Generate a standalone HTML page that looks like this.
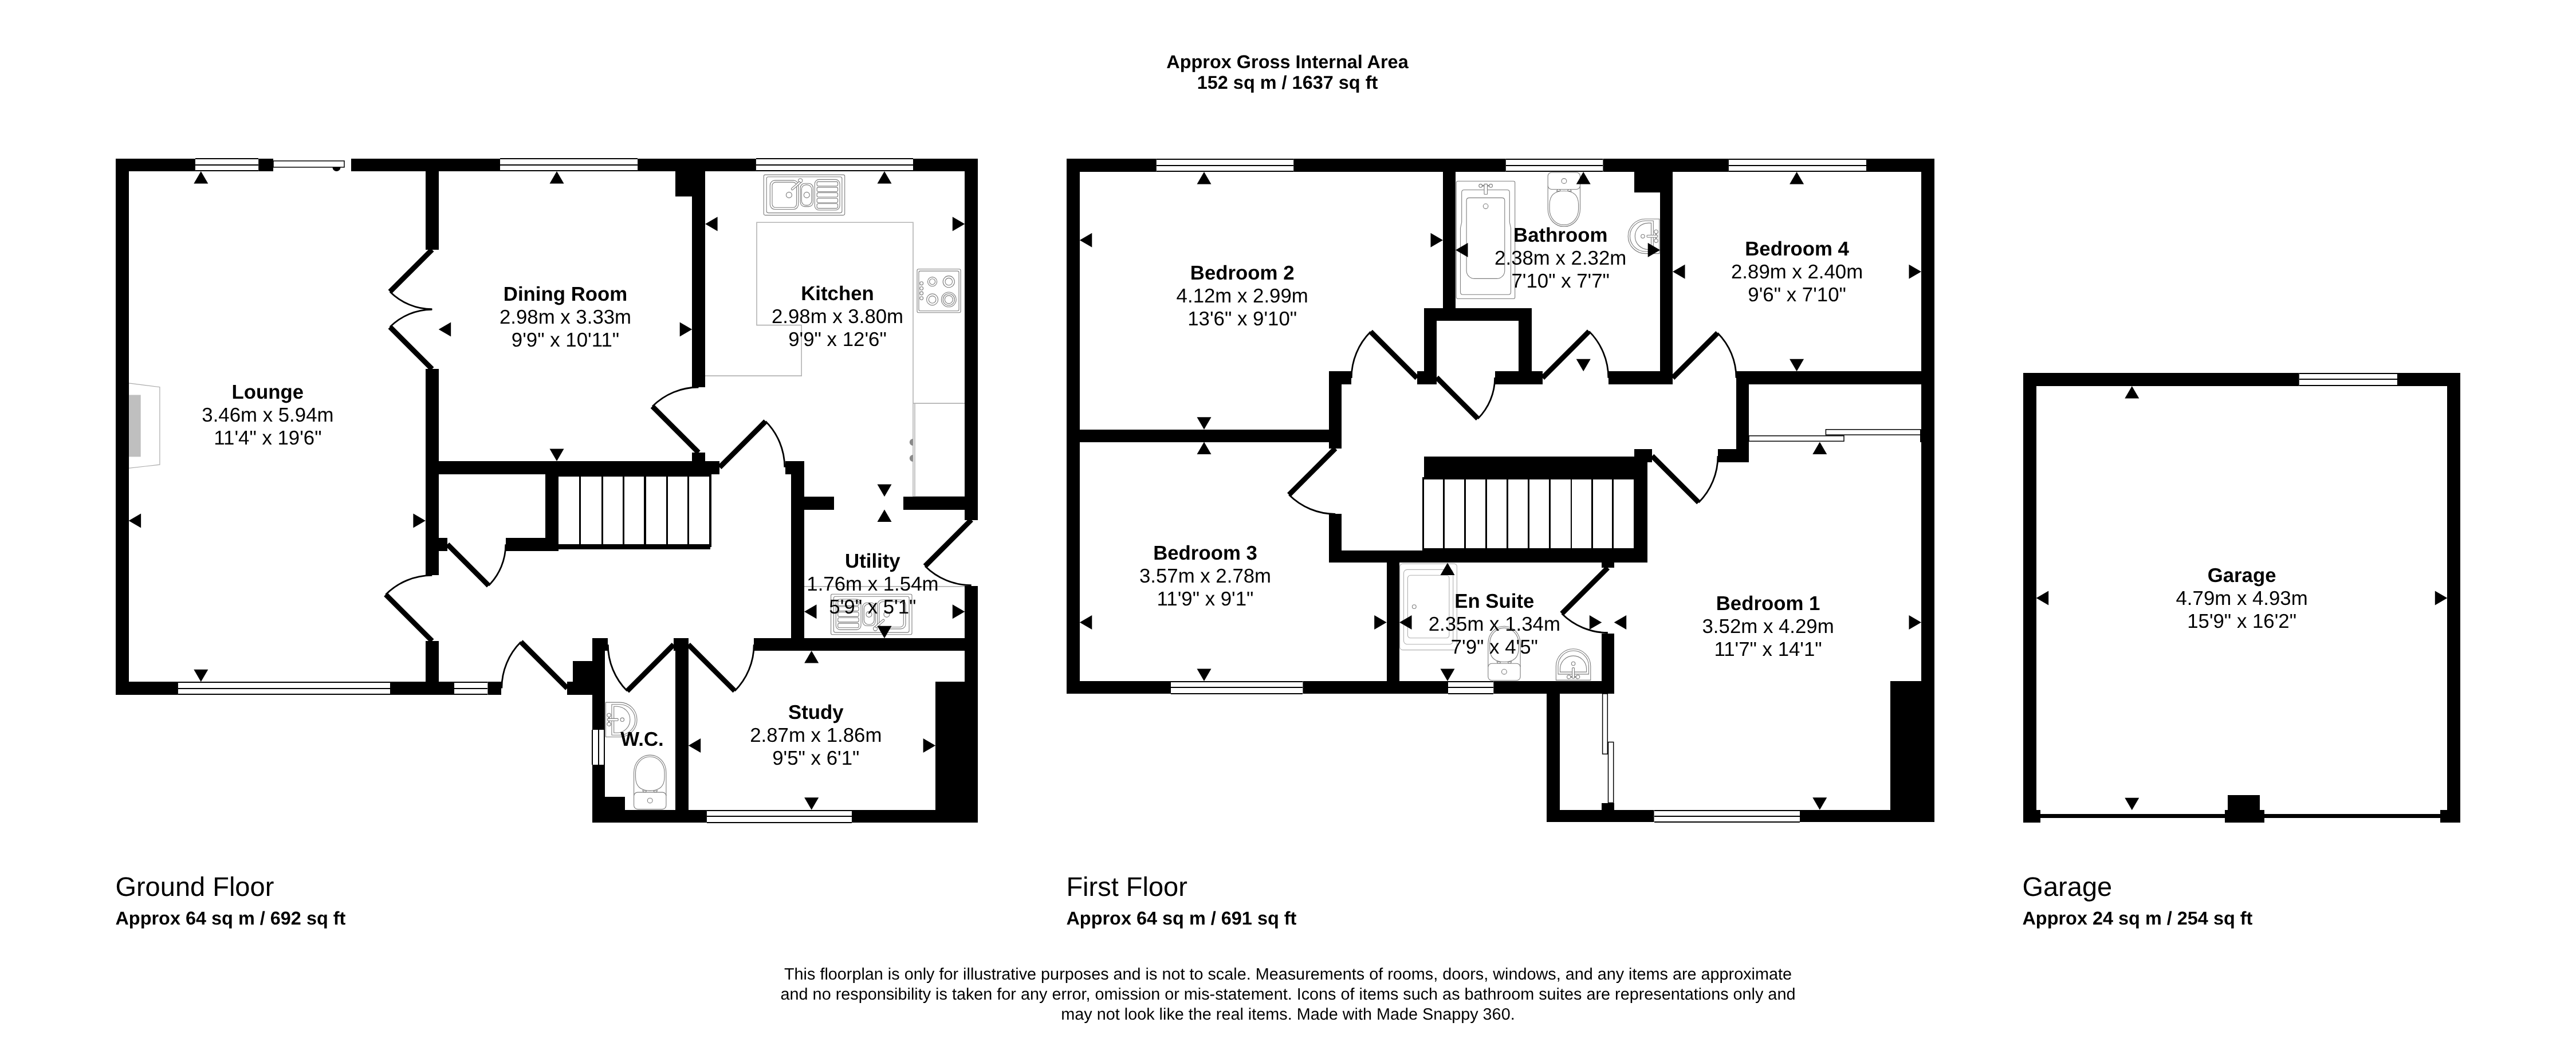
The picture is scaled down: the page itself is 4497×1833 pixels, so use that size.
<!DOCTYPE html>
<html><head><meta charset="utf-8"><title>Floorplan</title>
<style>html,body{margin:0;padding:0;background:#fff}svg{display:block;will-change:transform}text{font-family:"Liberation Sans",sans-serif;fill:#000;text-anchor:middle;text-rendering:geometricPrecision}</style>
</head><body>
<svg width="4497" height="1833" viewBox="0 0 4497 1833">
<rect x="0" y="0" width="4497" height="1833" fill="#fff"/>
<text x="2247.5" y="119" font-weight="bold" font-size="32.45">Approx Gross Internal Area</text>
<text x="2247.5" y="155.3" font-weight="bold" font-size="32.45">152 sq m / 1637 sq ft</text>
<text x="201.4" y="1563.5" font-size="47" style="text-anchor:start">Ground Floor</text>
<text x="201.4" y="1614" font-weight="bold" font-size="32.45" style="text-anchor:start">Approx 64 sq m / 692 sq ft</text>
<text x="1861.4" y="1563.5" font-size="47" style="text-anchor:start">First Floor</text>
<text x="1861.4" y="1614" font-weight="bold" font-size="32.45" style="text-anchor:start">Approx 64 sq m / 691 sq ft</text>
<text x="3530.4" y="1563.5" font-size="47" style="text-anchor:start">Garage</text>
<text x="3530.4" y="1614" font-weight="bold" font-size="32.45" style="text-anchor:start">Approx 24 sq m / 254 sq ft</text>
<text x="2248.5" y="1710" font-size="28.8">This floorplan is only for illustrative purposes and is not to scale. Measurements of rooms, doors, windows, and any items are approximate</text>
<text x="2248.5" y="1745" font-size="28.8">and no responsibility is taken for any error, omission or mis-statement. Icons of items such as bathroom suites are representations only and</text>
<text x="2248.5" y="1780" font-size="28.8">may not look like the real items. Made with Made Snappy 360.</text>
<g fill="none" stroke="#b3b3b3" stroke-width="1.6">
<path d="M1231,656.1 H1399.2 V567.6 H1321 V388.2 H1594 V866.9"/>
<path d="M1594,704.1 H1684.3 M1597,704.1 V866.9 M1594,866.9 H1684.3"/>
<path d="M1404,1023.9 H1684.3"/>
</g>
<path d="M1593.8,766 A6,6 0 0 0 1593.8,778 Z M1593.8,794 A6,6 0 0 0 1593.8,806 Z" fill="#8a8a8a"/>
<path d="M224.6,668.9 L278.9,675.7 V811.1 L224.6,817.4 Z" fill="#fff" stroke="#aaa" stroke-width="1.2"/>
<rect x="224.6" y="689.4" width="21.1" height="108" fill="#bfbfbf"/>
<g transform="translate(1333.3,305.1)" fill="#fff" stroke="#7d7d7d" stroke-width="1.1">
<rect x="0" y="0" width="141.4" height="70.5" rx="2.5"/>
<rect x="4.9" y="3.6" width="131.7" height="62.9" rx="3"/>
<rect x="11" y="9.8" width="49.4" height="50.6" rx="8.5"/>
<rect x="14.7" y="13" width="42.5" height="44.2" rx="6"/>
<circle cx="44.1" cy="35.3" r="5"/>
<rect x="63.9" y="15.2" width="22.2" height="40.3" rx="7.5"/>
<rect x="66" y="17.5" width="17.6" height="35.8" rx="8"/>
<circle cx="75" cy="35.3" r="5"/>
<rect x="89" y="8.3" width="43.7" height="53.4" rx="7.5"/>
<rect x="92.8" y="12" width="36.5" height="7.6" rx="2.5"/>
<rect x="92.8" y="21.8" width="36.5" height="7.6" rx="2.5"/>
<rect x="92.8" y="31.3" width="36.5" height="7.6" rx="2.5"/>
<rect x="92.8" y="41.1" width="36.5" height="7.6" rx="2.5"/>
<rect x="92.8" y="50.4" width="36.5" height="8.1" rx="2.5"/>
<circle cx="63.9" cy="10.2" r="3.6"/>
<path d="M62.3,11.6 L48.6,23.6 A1.7,1.7 0 0 0 50.9,26.1 L64.6,14.1 Z" />
</g>
<g transform="translate(1450.6,1037.2) rotate(180 70.7 35.25)" fill="#fff" stroke="#7d7d7d" stroke-width="1.1">
<rect x="0" y="0" width="141.4" height="70.5" rx="2.5"/>
<rect x="4.9" y="3.6" width="131.7" height="62.9" rx="3"/>
<rect x="11" y="9.8" width="49.4" height="50.6" rx="8.5"/>
<rect x="14.7" y="13" width="42.5" height="44.2" rx="6"/>
<circle cx="44.1" cy="35.3" r="5"/>
<rect x="63.9" y="15.2" width="22.2" height="40.3" rx="7.5"/>
<rect x="66" y="17.5" width="17.6" height="35.8" rx="8"/>
<circle cx="75" cy="35.3" r="5"/>
<rect x="89" y="8.3" width="43.7" height="53.4" rx="7.5"/>
<rect x="92.8" y="12" width="36.5" height="7.6" rx="2.5"/>
<rect x="92.8" y="21.8" width="36.5" height="7.6" rx="2.5"/>
<rect x="92.8" y="31.3" width="36.5" height="7.6" rx="2.5"/>
<rect x="92.8" y="41.1" width="36.5" height="7.6" rx="2.5"/>
<rect x="92.8" y="50.4" width="36.5" height="8.1" rx="2.5"/>
<circle cx="63.9" cy="10.2" r="3.6"/>
<path d="M62.3,11.6 L48.6,23.6 A1.7,1.7 0 0 0 50.9,26.1 L64.6,14.1 Z" />
</g>
<g fill="#fff" stroke="#7d7d7d" stroke-width="1.1">
<rect x="1601" y="469.8" width="76.1" height="76" rx="2.5"/>
<rect x="1604" y="473.1" width="70" height="69.7" rx="2.5"/>
<circle cx="1608.7" cy="494.7" r="2.9"/>
<circle cx="1608.7" cy="503.4" r="2.9"/>
<circle cx="1608.7" cy="512" r="2.9"/>
<circle cx="1608.7" cy="520.6" r="2.9"/>
<circle cx="1627.6" cy="491.7" r="8.1"/>
<circle cx="1627.6" cy="491.7" r="5"/>
<circle cx="1656.3" cy="491.7" r="10.1"/>
<circle cx="1656.3" cy="491.7" r="6.3"/>
<circle cx="1627.6" cy="522.9" r="10"/>
<circle cx="1627.6" cy="522.9" r="6.3"/>
<circle cx="1656.3" cy="522.9" r="12.9"/>
<circle cx="1656.3" cy="522.9" r="10.1"/>
<circle cx="1656.3" cy="522.9" r="7"/>
</g>
<g transform="translate(1057.4,1226.1)" fill="#fff" stroke="#7d7d7d" stroke-width="1.1">
<path d="M0,0 H24.4 A30.2,30.2 0 0 1 24.4,60.4 H0 Z"/>
<path d="M10.5,3.6 H24.65 A26.75,26.75 0 0 1 24.65,57.1 H10.5 Z"/>
<path d="M14.3,7.1 H19.45 A23.05,23.05 0 0 1 19.45,53.2 H14.3 Z"/>
<circle cx="28.9" cy="30.2" r="3.2"/>
<path d="M5,25.6 V35 M6.5,25.6 V35" fill="none"/>
<circle cx="5.7" cy="22.4" r="3.2"/><circle cx="5.7" cy="38.1" r="3.2"/>
<rect x="3.1" y="28.3" width="18.7" height="3.8" rx="1.2"/>
</g>
<g transform="translate(1106.6,1318.1) rotate(180 28.15 47.25)" fill="#fff" stroke="#7d7d7d" stroke-width="1.1">
<path d="M0,24 V64 C0,82 13,94.5 28.15,94.5 C43.3,94.5 56.3,82 56.3,64 V24 Z"/>
<path d="M15.3,32.6 L17,29.5 H20.5 L22.2,32.6 Z M34.1,32.6 L35.8,29.5 H39.3 L41,32.6 Z"/>
<path d="M2.9,56 C2.9,40 12,32.2 28.15,32.2 C44.3,32.2 53.4,40 53.4,56 V64 C53.4,80 42,91.6 28.15,91.6 C14.3,91.6 2.9,80 2.9,64 Z"/>
<rect x="0" y="0" width="56.3" height="29.5" rx="6.5"/>
<circle cx="28.2" cy="15" r="4.4"/>
</g>
<g fill="#000">
<rect x="202" y="277" width="23" height="936" fill="#000"/>
<rect x="202" y="277" width="139" height="22" fill="#000"/>
<rect x="451" y="277" width="26" height="22" fill="#000"/>
<rect x="613" y="277" width="260" height="22" fill="#000"/>
<rect x="1113" y="277" width="207" height="22" fill="#000"/>
<rect x="1594" y="277" width="113" height="22" fill="#000"/>
<rect x="1684" y="277" width="23" height="631" fill="#000"/>
<rect x="1684" y="1023" width="23" height="413" fill="#000"/>
<rect x="202" y="1190" width="109" height="23" fill="#000"/>
<rect x="681" y="1190" width="112" height="23" fill="#000"/>
<rect x="851" y="1190" width="24" height="23" fill="#000"/>
<rect x="743" y="277" width="23" height="159" fill="#000"/>
<rect x="743" y="644" width="23" height="360" fill="#000"/>
<rect x="743" y="1119" width="23" height="94" fill="#000"/>
<rect x="743" y="805" width="513" height="23" fill="#000"/>
<rect x="1208" y="277" width="23" height="399" fill="#000"/>
<rect x="1179" y="299" width="52" height="44" fill="#000"/>
<rect x="1208" y="790" width="23" height="16" fill="#000"/>
<rect x="952" y="827" width="23" height="135" fill="#000"/>
<rect x="883" y="939" width="92" height="23" fill="#000"/>
<rect x="766" y="939" width="15" height="23" fill="#000"/>
<rect x="1371" y="805" width="33" height="23" fill="#000"/>
<rect x="1381" y="805" width="23" height="331" fill="#000"/>
<rect x="1404" y="867" width="52" height="23" fill="#000"/>
<rect x="1577" y="867" width="107" height="23" fill="#000"/>
<rect x="1316" y="1114" width="391" height="22" fill="#000"/>
<rect x="1034" y="1114" width="22" height="160" fill="#000"/>
<rect x="1034" y="1335" width="22" height="101" fill="#000"/>
<rect x="1034" y="1114" width="27" height="22" fill="#000"/>
<rect x="1000" y="1154" width="34" height="36" fill="#000"/>
<rect x="990" y="1190" width="44" height="23" fill="#000"/>
<rect x="1179" y="1114" width="23" height="322" fill="#000"/>
<rect x="1176" y="1114" width="26" height="22" fill="#000"/>
<rect x="1034" y="1414" width="200" height="22" fill="#000"/>
<rect x="1487" y="1414" width="220" height="22" fill="#000"/>
<rect x="1056" y="1391" width="35" height="23" fill="#000"/>
<rect x="1633" y="1190" width="51" height="224" fill="#000"/>
</g>
<rect x="340.9" y="276" width="110.3" height="22.9" fill="#fff"/>
<rect x="341" y="276" width="110" height="2" fill="#000"/>
<rect x="341" y="287" width="110" height="2" fill="#000"/>
<rect x="341" y="297" width="110" height="2" fill="#000"/>
<rect x="873.1" y="276" width="240" height="22.9" fill="#fff"/>
<rect x="873" y="276" width="240" height="2" fill="#000"/>
<rect x="873" y="287" width="240" height="2" fill="#000"/>
<rect x="873" y="297" width="240" height="2" fill="#000"/>
<rect x="1319.9" y="276" width="274.1" height="22.9" fill="#fff"/>
<rect x="1320" y="276" width="274" height="2" fill="#000"/>
<rect x="1320" y="287" width="274" height="2" fill="#000"/>
<rect x="1320" y="297" width="274" height="2" fill="#000"/>
<rect x="310.9" y="1190.3" width="369.7" height="22.7" fill="#fff"/>
<rect x="311" y="1190" width="370" height="2" fill="#000"/>
<rect x="311" y="1201" width="370" height="2" fill="#000"/>
<rect x="311" y="1211" width="370" height="2" fill="#000"/>
<rect x="793.1" y="1190.3" width="58.3" height="22.7" fill="#fff"/>
<rect x="793" y="1190" width="58" height="2" fill="#000"/>
<rect x="793" y="1201" width="58" height="2" fill="#000"/>
<rect x="793" y="1211" width="58" height="2" fill="#000"/>
<rect x="1233.9" y="1413.7" width="253" height="23" fill="#fff"/>
<rect x="1234" y="1414" width="253" height="2" fill="#000"/>
<rect x="1234" y="1424" width="253" height="2" fill="#000"/>
<rect x="1234" y="1435" width="253" height="2" fill="#000"/>
<rect x="1033.1" y="1274" width="22.9" height="60.8" fill="#fff"/>
<rect x="1033" y="1274" width="2" height="61" fill="#000"/>
<rect x="1044" y="1274" width="2" height="61" fill="#000"/>
<rect x="1054" y="1274" width="2" height="61" fill="#000"/>
<path d="M580.5,292 A7,7 0 0 0 594.5,292 Z" fill="#000"/>
<rect x="477" y="280.9" width="124" height="11" fill="#fff" stroke="#000" stroke-width="1.5"/>
<rect x="975" y="828" width="267" height="4" fill="#000"/>
<rect x="975" y="950" width="265" height="9" fill="#000"/>
<rect x="1011" y="828" width="3" height="127" fill="#000"/>
<rect x="1050" y="828" width="3" height="127" fill="#000"/>
<rect x="1087" y="828" width="3" height="127" fill="#000"/>
<rect x="1124" y="828" width="4" height="127" fill="#000"/>
<rect x="1163" y="828" width="3" height="127" fill="#000"/>
<rect x="1200" y="828" width="3" height="127" fill="#000"/>
<rect x="1238" y="828" width="4" height="127" fill="#000"/>
<line x1="754.3" y1="435.7" x2="680.76" y2="509.24" stroke="#000" stroke-width="9"/>
<path d="M680.76,509.24 A104,104 0 0 0 754.3,539.7" fill="none" stroke="#000" stroke-width="2.8"/>
<line x1="754.3" y1="644.3" x2="680.76" y2="570.76" stroke="#000" stroke-width="9"/>
<path d="M680.76,570.76 A104,104 0 0 1 754.3,540.3" fill="none" stroke="#000" stroke-width="2.8"/>
<line x1="1219.5" y1="790" x2="1138.89" y2="709.39" stroke="#000" stroke-width="9"/>
<path d="M1138.89,709.39 A114,114 0 0 1 1219.5,676" fill="none" stroke="#000" stroke-width="2.8"/>
<line x1="1256.3" y1="815.8" x2="1336.56" y2="735.54" stroke="#000" stroke-width="9"/>
<path d="M1336.56,735.54 A113.5,113.5 0 0 1 1369.8,815.8" fill="none" stroke="#000" stroke-width="2.8"/>
<line x1="754.3" y1="1118.9" x2="673.34" y2="1037.94" stroke="#000" stroke-width="9"/>
<path d="M673.34,1037.94 A114.5,114.5 0 0 1 754.3,1004.4" fill="none" stroke="#000" stroke-width="2.8"/>
<line x1="781.1" y1="950.3" x2="853.01" y2="1022.21" stroke="#000" stroke-width="9"/>
<path d="M853.01,1022.21 A101.7,101.7 0 0 0 882.8,950.3" fill="none" stroke="#000" stroke-width="2.8"/>
<line x1="990.3" y1="1201.5" x2="909.34" y2="1120.54" stroke="#000" stroke-width="9"/>
<path d="M909.34,1120.54 A114.5,114.5 0 0 0 875.8,1201.5" fill="none" stroke="#000" stroke-width="2.8"/>
<line x1="1176" y1="1125.2" x2="1094.89" y2="1206.31" stroke="#000" stroke-width="9"/>
<path d="M1094.89,1206.31 A114.7,114.7 0 0 1 1061.3,1125.2" fill="none" stroke="#000" stroke-width="2.8"/>
<line x1="1201.7" y1="1125.2" x2="1282.66" y2="1206.16" stroke="#000" stroke-width="9"/>
<path d="M1282.66,1206.16 A114.5,114.5 0 0 0 1316.2,1125.2" fill="none" stroke="#000" stroke-width="2.8"/>
<line x1="1695.7" y1="907.4" x2="1614.88" y2="988.22" stroke="#000" stroke-width="9"/>
<path d="M1614.88,988.22 A114.3,114.3 0 0 0 1695.7,1021.7" fill="none" stroke="#000" stroke-width="2.8"/>
<g fill="#000">
<polygon points="350.8,298.9 338.3,320.4 363.3,320.4"/>
<polygon points="224.6,909.1 246.1,896.6 246.1,921.6"/>
<polygon points="742.9,909.1 721.4,896.6 721.4,921.6"/>
<polygon points="350.8,1190.3 338.3,1168.8 363.3,1168.8"/>
<polygon points="972,298.9 959.5,320.4 984.5,320.4"/>
<polygon points="765.7,575 787.2,562.5 787.2,587.5"/>
<polygon points="1208.2,575 1186.7,562.5 1186.7,587.5"/>
<polygon points="972,805.1 959.5,783.6 984.5,783.6"/>
<polygon points="1544,298.9 1531.5,320.4 1556.5,320.4"/>
<polygon points="1231.1,391.1 1252.6,378.6 1252.6,403.6"/>
<polygon points="1684.3,391.1 1662.8,378.6 1662.8,403.6"/>
<polygon points="1544,866.9 1531.5,845.4 1556.5,845.4"/>
<polygon points="1544,889.4 1531.5,910.9 1556.5,910.9"/>
<polygon points="1404,1067.8 1425.5,1055.3 1425.5,1080.3"/>
<polygon points="1684.3,1067.8 1662.8,1055.3 1662.8,1080.3"/>
<polygon points="1544,1114.2 1531.5,1092.7 1556.5,1092.7"/>
<polygon points="1416.7,1136 1404.2,1157.5 1429.2,1157.5"/>
<polygon points="1201.7,1301.5 1223.2,1289 1223.2,1314"/>
<polygon points="1633.1,1301.5 1611.6,1289 1611.6,1314"/>
<polygon points="1416.7,1413.7 1404.2,1392.2 1429.2,1392.2"/>
</g>
<text x="467.4" y="695.7" font-weight="bold" font-size="34.8">Lounge</text>
<text x="467.4" y="735.7" font-size="34.8">3.46m x 5.94m</text>
<text x="467.4" y="775.7" font-size="34.8">11'4" x 19'6"</text>
<text x="987" y="525" font-weight="bold" font-size="34.8">Dining Room</text>
<text x="987" y="565" font-size="34.8">2.98m x 3.33m</text>
<text x="987" y="605" font-size="34.8">9'9" x 10'11"</text>
<text x="1462" y="524" font-weight="bold" font-size="34.8">Kitchen</text>
<text x="1462" y="564" font-size="34.8">2.98m x 3.80m</text>
<text x="1462" y="604" font-size="34.8">9'9" x 12'6"</text>
<text x="1523.4" y="990.5" font-weight="bold" font-size="34.8">Utility</text>
<text x="1523.4" y="1030.5" font-size="34.8">1.76m x 1.54m</text>
<text x="1523.4" y="1070.5" font-size="34.8">5'9" x 5'1"</text>
<text x="1424.3" y="1254.7" font-weight="bold" font-size="34.8">Study</text>
<text x="1424.3" y="1294.7" font-size="34.8">2.87m x 1.86m</text>
<text x="1424.3" y="1334.7" font-size="34.8">9'5" x 6'1"</text>
<text x="1121" y="1302.3" font-weight="bold" font-size="34.8">W.C.</text>
<g fill="#fff" stroke="#7d7d7d" stroke-width="1.1">
<rect x="2542.4" y="316.3" width="102.3" height="205.2" rx="2.5"/>
<path d="M2556,331.5 H2631 Q2635.3,331.5 2635.3,335.8 V388 L2637.5,398 V510 Q2637.5,514.3 2633,514.3 H2554 Q2549.5,514.3 2549.5,510 V398 L2551.7,388 V335.8 Q2551.7,331.5 2556,331.5 Z"/>
<path d="M2565,345.4 H2622 Q2626.8,345.4 2626.8,350 V472.4 A14,14 0 0 1 2612.8,486.4 H2574.1 A14,14 0 0 1 2560.1,472.4 V350 Q2560.1,345.4 2565,345.4 Z"/>
<circle cx="2593.6" cy="360.1" r="4.3"/>
<circle cx="2584.7" cy="324.3" r="2.9"/><circle cx="2602.6" cy="324.3" r="2.9"/>
<path d="M2587.6,323.6 H2599.7 M2587.6,325 H2599.7" fill="none"/>
<rect x="2591" y="321.4" width="5.5" height="17.9" rx="0.8"/>
</g>
<g transform="translate(2702.2,301)" fill="#fff" stroke="#7d7d7d" stroke-width="1.1">
<path d="M0,24 V64 C0,82 13,94.5 28.15,94.5 C43.3,94.5 56.3,82 56.3,64 V24 Z"/>
<path d="M15.3,32.6 L17,29.5 H20.5 L22.2,32.6 Z M34.1,32.6 L35.8,29.5 H39.3 L41,32.6 Z"/>
<path d="M2.9,56 C2.9,40 12,32.2 28.15,32.2 C44.3,32.2 53.4,40 53.4,56 V64 C53.4,80 42,91.6 28.15,91.6 C14.3,91.6 2.9,80 2.9,64 Z"/>
<rect x="0" y="0" width="56.3" height="29.5" rx="6.5"/>
<circle cx="28.2" cy="15" r="4.4"/>
</g>
<g transform="translate(2896.8,442.6) rotate(180)" fill="#fff" stroke="#7d7d7d" stroke-width="1.1">
<path d="M0,0 H24.4 A30.2,30.2 0 0 1 24.4,60.4 H0 Z"/>
<path d="M10.5,3.6 H24.65 A26.75,26.75 0 0 1 24.65,57.1 H10.5 Z"/>
<path d="M14.3,7.1 H19.45 A23.05,23.05 0 0 1 19.45,53.2 H14.3 Z"/>
<circle cx="28.9" cy="30.2" r="3.2"/>
<path d="M5,25.6 V35 M6.5,25.6 V35" fill="none"/>
<circle cx="5.7" cy="22.4" r="3.2"/><circle cx="5.7" cy="38.1" r="3.2"/>
<rect x="3.1" y="28.3" width="18.7" height="3.8" rx="1.2"/>
</g>
<g fill="#fff" stroke="#b0b0b0" stroke-width="1.1">
<rect x="2443.7" y="984.1" width="99.7" height="150.5" rx="5"/>
<rect x="2450.5" y="994.4" width="86.2" height="130.3" rx="6"/>
<rect x="2457.4" y="1004.3" width="72.5" height="109.5" rx="5"/>
<circle cx="2468.8" cy="1059.1" r="3.4" stroke="#7d7d7d"/>
</g>
<g transform="translate(2597.8,1093.2) rotate(180 28.15 47.25)" fill="#fff" stroke="#7d7d7d" stroke-width="1.1">
<path d="M0,24 V64 C0,82 13,94.5 28.15,94.5 C43.3,94.5 56.3,82 56.3,64 V24 Z"/>
<path d="M15.3,32.6 L17,29.5 H20.5 L22.2,32.6 Z M34.1,32.6 L35.8,29.5 H39.3 L41,32.6 Z"/>
<path d="M2.9,56 C2.9,40 12,32.2 28.15,32.2 C44.3,32.2 53.4,40 53.4,56 V64 C53.4,80 42,91.6 28.15,91.6 C14.3,91.6 2.9,80 2.9,64 Z"/>
<rect x="0" y="0" width="56.3" height="29.5" rx="6.5"/>
<circle cx="28.2" cy="15" r="4.4"/>
</g>
<g transform="translate(2716.4,1187.4) rotate(-90)" fill="#fff" stroke="#7d7d7d" stroke-width="1.1">
<path d="M0,0 H24.4 A30.2,30.2 0 0 1 24.4,60.4 H0 Z"/>
<path d="M10.5,3.6 H24.65 A26.75,26.75 0 0 1 24.65,57.1 H10.5 Z"/>
<path d="M14.3,7.1 H19.45 A23.05,23.05 0 0 1 19.45,53.2 H14.3 Z"/>
<circle cx="28.9" cy="30.2" r="3.2"/>
<path d="M5,25.6 V35 M6.5,25.6 V35" fill="none"/>
<circle cx="5.7" cy="22.4" r="3.2"/><circle cx="5.7" cy="38.1" r="3.2"/>
<rect x="3.1" y="28.3" width="18.7" height="3.8" rx="1.2"/>
</g>
<g fill="#000">
<rect x="1862" y="277" width="23" height="934" fill="#000"/>
<rect x="1862" y="277" width="157" height="23" fill="#000"/>
<rect x="2258" y="277" width="371" height="23" fill="#000"/>
<rect x="2798" y="277" width="220" height="23" fill="#000"/>
<rect x="3258" y="277" width="119" height="23" fill="#000"/>
<rect x="3354" y="277" width="23" height="1158" fill="#000"/>
<rect x="2519" y="277" width="22" height="261" fill="#000"/>
<rect x="2486" y="538" width="188" height="22" fill="#000"/>
<rect x="2486" y="538" width="22" height="133" fill="#000"/>
<rect x="2651" y="538" width="23" height="133" fill="#000"/>
<rect x="2474" y="648" width="34" height="23" fill="#000"/>
<rect x="2610" y="648" width="83" height="23" fill="#000"/>
<rect x="2853" y="299" width="67" height="37" fill="#000"/>
<rect x="2898" y="277" width="22" height="394" fill="#000"/>
<rect x="2808" y="648" width="112" height="23" fill="#000"/>
<rect x="3031" y="648" width="346" height="23" fill="#000"/>
<rect x="3031" y="648" width="22" height="159" fill="#000"/>
<rect x="2999" y="784" width="54" height="23" fill="#000"/>
<rect x="2320" y="648" width="22" height="135" fill="#000"/>
<rect x="2320" y="897" width="22" height="85" fill="#000"/>
<rect x="2320" y="648" width="39" height="23" fill="#000"/>
<rect x="1862" y="750" width="480" height="22" fill="#000"/>
<rect x="2486" y="797" width="390" height="40" fill="#000"/>
<rect x="2853" y="784" width="31" height="23" fill="#000"/>
<rect x="2852" y="797" width="24" height="185" fill="#000"/>
<rect x="2320" y="961" width="556" height="21" fill="#000"/>
<rect x="2421" y="982" width="22" height="229" fill="#000"/>
<rect x="1862" y="1189" width="182" height="22" fill="#000"/>
<rect x="2274" y="1189" width="254" height="22" fill="#000"/>
<rect x="2607" y="1189" width="211" height="22" fill="#000"/>
<rect x="2796" y="1106" width="22" height="105" fill="#000"/>
<rect x="2796" y="982" width="22" height="9" fill="#000"/>
<rect x="2700" y="1211" width="23" height="224" fill="#000"/>
<rect x="2700" y="1414" width="188" height="21" fill="#000"/>
<rect x="3142" y="1414" width="235" height="21" fill="#000"/>
<rect x="2796" y="1402" width="22" height="12" fill="#000"/>
<rect x="3300" y="1189" width="55" height="225" fill="#000"/>
</g>
<rect x="2018.8" y="277" width="239.4" height="23" fill="#fff"/>
<rect x="2019" y="277" width="239" height="2" fill="#000"/>
<rect x="2019" y="288" width="239" height="2" fill="#000"/>
<rect x="2019" y="298" width="239" height="2" fill="#000"/>
<rect x="2628.8" y="277" width="169.6" height="23" fill="#fff"/>
<rect x="2629" y="277" width="169" height="2" fill="#000"/>
<rect x="2629" y="288" width="169" height="2" fill="#000"/>
<rect x="2629" y="298" width="169" height="2" fill="#000"/>
<rect x="3017.9" y="277" width="239.6" height="23" fill="#fff"/>
<rect x="3018" y="277" width="240" height="2" fill="#000"/>
<rect x="3018" y="288" width="240" height="2" fill="#000"/>
<rect x="3018" y="298" width="240" height="2" fill="#000"/>
<rect x="2044.1" y="1189.1" width="230.3" height="22.9" fill="#fff"/>
<rect x="2044" y="1189" width="230" height="2" fill="#000"/>
<rect x="2044" y="1199" width="230" height="2" fill="#000"/>
<rect x="2044" y="1210" width="230" height="2" fill="#000"/>
<rect x="2528" y="1189.1" width="79.3" height="22.9" fill="#fff"/>
<rect x="2528" y="1189" width="79" height="2" fill="#000"/>
<rect x="2528" y="1199" width="79" height="2" fill="#000"/>
<rect x="2528" y="1210" width="79" height="2" fill="#000"/>
<rect x="2887.5" y="1413.8" width="254.5" height="22.5" fill="#fff"/>
<rect x="2888" y="1414" width="254" height="2" fill="#000"/>
<rect x="2888" y="1424" width="254" height="2" fill="#000"/>
<rect x="2888" y="1434" width="254" height="2" fill="#000"/>
<g fill="#fff" stroke="#000" stroke-width="1.5">
<rect x="3053" y="760.8" width="166" height="9.4"/>
<rect x="3187.4" y="749.8" width="165.5" height="9.3"/>
<rect x="2797.6" y="1211" width="8.7" height="105.3"/>
<rect x="2807.5" y="1295.5" width="9.2" height="106"/>
</g>
<rect x="3352" y="750" width="3" height="22" fill="#000"/>
<rect x="2483" y="833" width="3" height="128" fill="#000"/>
<rect x="2483" y="957" width="369" height="4" fill="#000"/>
<rect x="2519" y="837" width="3" height="121" fill="#000"/>
<rect x="2556" y="837" width="3" height="121" fill="#000"/>
<rect x="2593" y="837" width="3" height="121" fill="#000"/>
<rect x="2630" y="837" width="3" height="121" fill="#000"/>
<rect x="2667" y="837" width="3" height="121" fill="#000"/>
<rect x="2704" y="837" width="3" height="121" fill="#000"/>
<rect x="2742" y="837" width="2" height="121" fill="#000"/>
<rect x="2778" y="837" width="3" height="121" fill="#000"/>
<rect x="2814" y="837" width="3" height="121" fill="#000"/>
<line x1="2473.7" y1="660" x2="2392.74" y2="579.04" stroke="#000" stroke-width="9"/>
<path d="M2392.74,579.04 A114.5,114.5 0 0 0 2359.2,660" fill="none" stroke="#000" stroke-width="2.8"/>
<line x1="2508" y1="659" x2="2579.91" y2="730.91" stroke="#000" stroke-width="9"/>
<path d="M2579.91,730.91 A101.7,101.7 0 0 0 2609.7,659" fill="none" stroke="#000" stroke-width="2.8"/>
<line x1="2692.8" y1="659.7" x2="2774.12" y2="578.38" stroke="#000" stroke-width="9"/>
<path d="M2774.12,578.38 A115,115 0 0 1 2807.8,659.7" fill="none" stroke="#000" stroke-width="2.8"/>
<line x1="2920" y1="659.7" x2="2998.49" y2="581.21" stroke="#000" stroke-width="9"/>
<path d="M2998.49,581.21 A111,111 0 0 1 3031,659.7" fill="none" stroke="#000" stroke-width="2.8"/>
<line x1="2331.2" y1="782.8" x2="2250.24" y2="863.76" stroke="#000" stroke-width="9"/>
<path d="M2250.24,863.76 A114.5,114.5 0 0 0 2331.2,897.3" fill="none" stroke="#000" stroke-width="2.8"/>
<line x1="2884.2" y1="796" x2="2965.38" y2="877.18" stroke="#000" stroke-width="9"/>
<path d="M2965.38,877.18 A114.8,114.8 0 0 0 2999,796" fill="none" stroke="#000" stroke-width="2.8"/>
<line x1="2806.8" y1="991" x2="2726.54" y2="1071.26" stroke="#000" stroke-width="9"/>
<path d="M2726.54,1071.26 A113.5,113.5 0 0 0 2806.8,1104.5" fill="none" stroke="#000" stroke-width="2.8"/>
<g fill="#000">
<polygon points="2102,300 2089.5,321.5 2114.5,321.5"/>
<polygon points="1884.8,419.2 1906.3,406.7 1906.3,431.7"/>
<polygon points="2519,419.2 2497.5,406.7 2497.5,431.7"/>
<polygon points="2102,749.8 2089.5,728.3 2114.5,728.3"/>
<polygon points="2102,771.6 2089.5,793.1 2114.5,793.1"/>
<polygon points="1884.8,1086.6 1906.3,1074.1 1906.3,1099.1"/>
<polygon points="2420.7,1086.6 2399.2,1074.1 2399.2,1099.1"/>
<polygon points="2102,1189.1 2089.5,1167.6 2114.5,1167.6"/>
<polygon points="2764.2,300 2751.7,321.5 2776.7,321.5"/>
<polygon points="2541,436.6 2562.5,424.1 2562.5,449.1"/>
<polygon points="2898.2,436.6 2876.7,424.1 2876.7,449.1"/>
<polygon points="2764.2,648.3 2751.7,626.8 2776.7,626.8"/>
<polygon points="3136.6,300 3124.1,321.5 3149.1,321.5"/>
<polygon points="2920,474.2 2941.5,461.7 2941.5,486.7"/>
<polygon points="3354,474.2 3332.5,461.7 3332.5,486.7"/>
<polygon points="3136.6,648.2 3124.1,626.7 3149.1,626.7"/>
<polygon points="2527,982.4 2514.5,1003.9 2539.5,1003.9"/>
<polygon points="2443,1086.6 2464.5,1074.1 2464.5,1099.1"/>
<polygon points="2796.3,1086.6 2774.8,1074.1 2774.8,1099.1"/>
<polygon points="2527,1189.1 2514.5,1167.6 2539.5,1167.6"/>
<polygon points="3176.8,771.6 3164.3,793.1 3189.3,793.1"/>
<polygon points="2817.7,1086.6 2839.2,1074.1 2839.2,1099.1"/>
<polygon points="3354,1086.6 3332.5,1074.1 3332.5,1099.1"/>
<polygon points="3176.8,1413.8 3164.3,1392.3 3189.3,1392.3"/>
</g>
<text x="2168.7" y="487.6" font-weight="bold" font-size="34.8">Bedroom 2</text>
<text x="2168.7" y="527.6" font-size="34.8">4.12m x 2.99m</text>
<text x="2168.7" y="567.6" font-size="34.8">13'6" x 9'10"</text>
<text x="2724.2" y="421.9" font-weight="bold" font-size="34.8">Bathroom</text>
<text x="2724.2" y="461.9" font-size="34.8">2.38m x 2.32m</text>
<text x="2724.2" y="501.9" font-size="34.8">7'10" x 7'7"</text>
<text x="3137.1" y="445.6" font-weight="bold" font-size="34.8">Bedroom 4</text>
<text x="3137.1" y="485.6" font-size="34.8">2.89m x 2.40m</text>
<text x="3137.1" y="525.6" font-size="34.8">9'6" x 7'10"</text>
<text x="2104" y="976.6" font-weight="bold" font-size="34.8">Bedroom 3</text>
<text x="2104" y="1016.6" font-size="34.8">3.57m x 2.78m</text>
<text x="2104" y="1056.6" font-size="34.8">11'9" x 9'1"</text>
<text x="2608.8" y="1061.2" font-weight="bold" font-size="34.8">En Suite</text>
<text x="2608.8" y="1101.2" font-size="34.8">2.35m x 1.34m</text>
<text x="2608.8" y="1141.2" font-size="34.8">7'9" x 4'5"</text>
<text x="3086.6" y="1064.7" font-weight="bold" font-size="34.8">Bedroom 1</text>
<text x="3086.6" y="1104.7" font-size="34.8">3.52m x 4.29m</text>
<text x="3086.6" y="1144.7" font-size="34.8">11'7" x 14'1"</text>
<g fill="#000">
<rect x="3532" y="651" width="763" height="23" fill="#000"/>
<rect x="3532" y="651" width="23" height="785" fill="#000"/>
<rect x="4272" y="651" width="23" height="785" fill="#000"/>
<rect x="3532" y="1414" width="30" height="22" fill="#000"/>
<rect x="4260" y="1414" width="35" height="22" fill="#000"/>
<rect x="3555" y="1421" width="717" height="7" fill="#000"/>
<rect x="3884" y="1414" width="69" height="22" fill="#000"/>
<rect x="3889" y="1388" width="56" height="26" fill="#000"/>
<polygon points="3721.8,673.9 3709.3,695.4 3734.3,695.4"/>
<polygon points="3721.8,1414.3 3709.3,1392.8 3734.3,1392.8"/>
<polygon points="3554.7,1044 3576.2,1031.5 3576.2,1056.5"/>
<polygon points="4272.3,1044 4250.8,1031.5 4250.8,1056.5"/>
</g>
<rect x="4013.7" y="650.9" width="171.2" height="23" fill="#fff"/>
<rect x="4014" y="651" width="171" height="2" fill="#000"/>
<rect x="4014" y="661" width="171" height="2" fill="#000"/>
<rect x="4014" y="672" width="171" height="2" fill="#000"/>
<text x="3913.6" y="1016" font-weight="bold" font-size="34.8">Garage</text>
<text x="3913.6" y="1056" font-size="34.8">4.79m x 4.93m</text>
<text x="3913.6" y="1096" font-size="34.8">15'9" x 16'2"</text>
</svg></body></html>
